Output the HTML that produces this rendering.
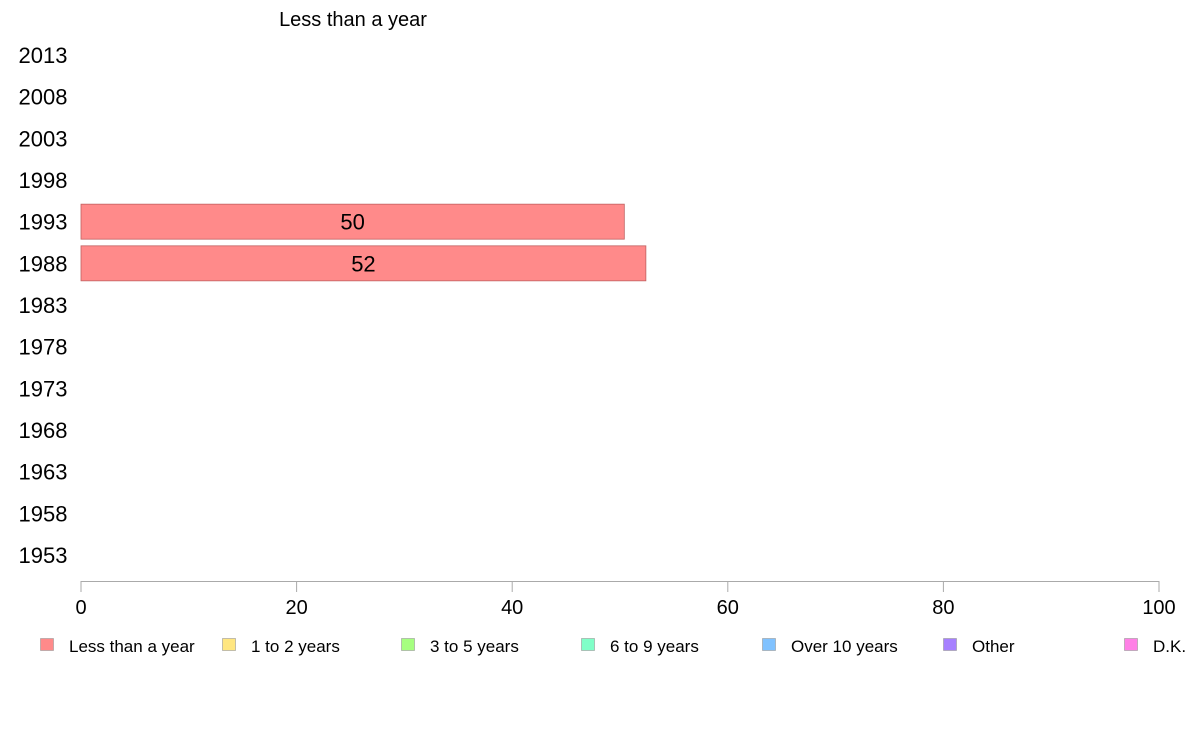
<!DOCTYPE html>
<html><head><meta charset="utf-8"><style>
body{margin:0;background:#fff;font-family:"Liberation Sans",Arial,sans-serif}
</style></head><body>
<svg id="chart" width="1188" height="736" xmlns="http://www.w3.org/2000/svg" font-family="Liberation Sans, Arial, sans-serif">
<text x="353" y="26" font-size="20" text-anchor="middle">Less than a year</text>
<g id="yaxis"></g>
<g id="bars"></g>
<g id="xaxis"></g>
<g id="legend"></g>
</svg>
<script>
const years = ["2013","2008","2003","1998","1993","1988","1983","1978","1973","1968","1963","1958","1953"];
const values = [null,null,null,null,50.4,52.4,null,null,null,null,null,null,null];
const valueLabels = ["","","","","50","52","","","","","","",""];
const xTicks = [0,20,40,60,80,100];
const legendNames = ["Less than a year","1 to 2 years","3 to 5 years","6 to 9 years","Over 10 years","Other","D.K."];
const legendColors = ["#ff8a8a","#ffe680","#a6ff80","#80ffc8","#80c2ff","#a680ff","#ff80e6"];

const NS="http://www.w3.org/2000/svg";
const x0=81,x1=1159,yTop=55,yBot=555;
const xs=v=>x0+(v/100)*(x1-x0);
const ys=i=>yTop+i*(yBot-yTop)/(years.length-1);
function mk(tag,attrs,parent){const e=document.createElementNS(NS,tag);for(const k in attrs)e.setAttribute(k,attrs[k]);parent.appendChild(e);return e;}
const gy=document.getElementById('yaxis'),gb=document.getElementById('bars'),gx=document.getElementById('xaxis'),gl=document.getElementById('legend');
years.forEach((y,i)=>{
  const t=mk('text',{x:43,y:ys(i)+8,'font-size':22,'text-anchor':'middle'},gy);t.textContent=y;
  
  
  if(values[i]!=null){
    const r=mk('rect',{x:x0,y:ys(i)-17.5,width:xs(values[i])-x0,height:35,fill:'#ff8a8a',stroke:'#c06060','stroke-width':0.8},gb);
    
    
    const l=mk('text',{x:(x0+xs(values[i]))/2,y:ys(i)+8,'font-size':22,'text-anchor':'middle'},gb);l.textContent=valueLabels[i];
    
    
  }
});
const ax=mk('line',{x1:x0,x2:x1,y1:581.5,y2:581.5,stroke:'#aaa','stroke-width':1},gx);


xTicks.forEach(v=>{
  const tk=mk('line',{x1:xs(v),x2:xs(v),y1:581,y2:592,stroke:'#aaa'},gx);
  
  
  const t=mk('text',{x:xs(v),y:614,'font-size':20,'text-anchor':'middle'},gx);t.textContent=v;
  
  
});
const lx=[40,222,401,581,762,943,1124];
legendNames.forEach((n,i)=>{
  const g=mk('g',{},gl);
  
  
  mk('rect',{x:lx[i]+0.5,y:638.5,width:13,height:12,fill:legendColors[i],stroke:'#999','stroke-width':0.6},g);
  const t=mk('text',{x:lx[i]+29,y:652,'font-size':17},g);t.textContent=n;
});
</script>
</body></html>
